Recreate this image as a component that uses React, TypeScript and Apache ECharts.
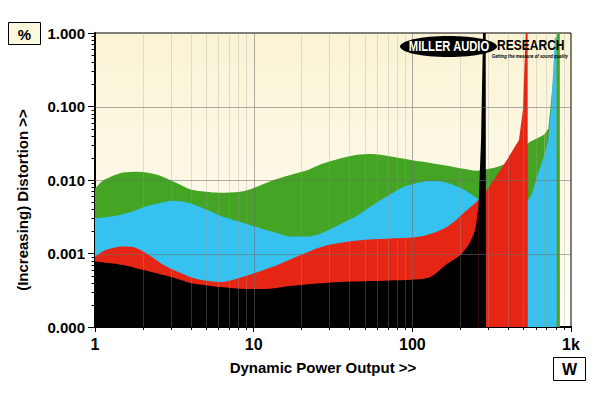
import React, { useEffect, useRef } from "react";
import * as echarts from "echarts";

// Distortion (%) vs power (W), each trace filled down to the axis floor
const greenData: [number, number][] = [
  [1, 0.0076], [1.1, 0.0095], [1.25, 0.011], [1.5, 0.0126], [1.85, 0.013], [2.5, 0.0117],
  [3.3, 0.009], [4, 0.0074], [5, 0.0069], [6.1, 0.0067], [8.2, 0.0069], [10, 0.0078],
  [13, 0.0098], [17, 0.0117], [22, 0.0137], [27, 0.0166], [35, 0.0196], [45, 0.022],
  [55, 0.0226], [72, 0.021], [100, 0.0185], [130, 0.017], [170, 0.0155], [210, 0.0142],
  [255, 0.0134], [295, 0.014], [340, 0.015], [394, 0.017], [450, 0.022], [527, 0.031],
  [600, 0.036], [680, 0.042], [720, 0.05], [780, 0.3], [815, 1], [850, 1], [851, 0.0001],
];
const blueData: [number, number][] = [
  [1, 0.003], [1.3, 0.0032], [1.7, 0.0037], [2.1, 0.0044], [2.5, 0.0048], [3.1, 0.0052],
  [4, 0.0048], [5.1, 0.0039], [6.1, 0.0033], [8.2, 0.0027], [11, 0.0022], [14, 0.0019],
  [17, 0.0017], [22, 0.0017], [27, 0.0019], [35, 0.0025], [45, 0.0033], [62, 0.0052],
  [72, 0.0063], [90, 0.0082], [117, 0.0095], [140, 0.0097], [165, 0.0092], [210, 0.0075],
  [255, 0.0057], [300, 0.0048], [400, 0.0045], [535, 0.0053], [610, 0.011], [680, 0.022],
  [720, 0.035], [755, 0.12], [790, 0.85], [810, 0.9], [812, 0.0001],
];
const redData: [number, number][] = [
  [1, 0.0009], [1.15, 0.0011], [1.35, 0.00122], [1.5, 0.00125], [1.8, 0.0012], [2.2, 0.00095],
  [2.8, 0.00067], [3.8, 0.0005], [4.6, 0.00044], [6.1, 0.00041], [9, 0.0005], [13.2, 0.00066],
  [17, 0.00083], [27, 0.00124], [45, 0.0015], [72, 0.0016], [112, 0.0017], [165, 0.0023],
  [221, 0.0039], [260, 0.0053], [295, 0.0073], [394, 0.0187], [470, 0.035], [498, 0.09],
  [518, 1], [533, 1], [534, 0.0001],
];
const blackData: [number, number][] = [
  [1, 0.00078], [1.5, 0.0007], [2, 0.0006], [2.5, 0.00053], [3.1, 0.00047], [4.1, 0.00039],
  [5, 0.00037], [6.1, 0.00035], [9, 0.00033], [12, 0.00033], [17, 0.00036], [25, 0.00039],
  [35, 0.00041], [50, 0.00042], [72, 0.00043], [100, 0.00044], [130, 0.00048], [165, 0.00072],
  [200, 0.00095], [230, 0.0014], [250, 0.0022], [262, 0.005], [271, 0.035], [279, 1],
  [290, 1], [291, 0.0001],
];
// the clipping spike at the end of each trace is drawn straight, the rest smooth
const spikeFromPower = [680, 680, 470, 262];

const seriesNames = ["green", "blue", "red", "black"];
const seriesColors = ["#44A423", "#36C2F0", "#E62614", "#000000"];

const xMin = 1;
const xMax = 1000;
const yMin = 0.0001;
const yMax = 1;
const xMajorGrid = [10, 100];
const yMajorGrid = [0.001, 0.01, 0.1];
const xMinorTicks = [2, 3, 4, 5, 6, 7, 8, 9, 20, 30, 40, 50, 60, 70, 80, 90, 200, 300, 400, 500, 600, 700, 800, 900];
const yMinorTicks = [
  0.0002, 0.0003, 0.0004, 0.0005, 0.0006, 0.0007, 0.0008, 0.0009,
  0.002, 0.003, 0.004, 0.005, 0.006, 0.007, 0.008, 0.009,
  0.02, 0.03, 0.04, 0.05, 0.06, 0.07, 0.08, 0.09,
  0.2, 0.3, 0.4, 0.5, 0.6, 0.7, 0.8, 0.9,
];

const FONT = "'Liberation Sans', Arial, sans-serif";

export default function App() {
  const ref = useRef<HTMLDivElement>(null);
  useEffect(() => {
    const chart = echarts.init(ref.current!, null, { renderer: "svg" });
    const datasets = [greenData, blueData, redData, blackData];
    const series: any[] = [];
    datasets.forEach((d, i) => {
      const k = d.findIndex((p) => p[0] >= spikeFromPower[i]);
      const common = {
        type: "line",
        name: seriesNames[i],
        showSymbol: false,
        symbol: "none",
        lineStyle: { width: 0 },
        areaStyle: { color: seriesColors[i], opacity: 1, origin: "start" },
        z: 2 + i,
        silent: true,
      };
      series.push({ ...common, data: d.slice(0, k + 1), smooth: 0.3 });
      series.push({ ...common, data: d.slice(k), smooth: false });
    });
    chart.setOption({
      animation: false,
      backgroundColor: "#ffffff",
      grid: {
        left: 95,
        top: 33,
        right: 29,
        bottom: 66,
        show: true,
        borderColor: "#000",
        borderWidth: 1,
        backgroundColor: new echarts.graphic.LinearGradient(0, 0, 0, 1, [
          { offset: 0, color: "#FAF3D4" },
          { offset: 1, color: "#FFFDF6" },
        ]),
      },
      xAxis: {
        type: "log",
        logBase: 10,
        min: xMin,
        max: xMax,
        axisLine: { show: true, lineStyle: { color: "#000", width: 2 } },
        axisTick: { show: true, length: 5, lineStyle: { color: "#000" } },
        splitLine: { show: false },
        axisLabel: {
          margin: 9,
          color: "#000",
          fontFamily: FONT,
          fontWeight: "bold",
          fontSize: 16,
          formatter: (v: number) => (v >= 1000 ? v / 1000 + "k" : String(v)),
        },
      },
      yAxis: {
        type: "log",
        logBase: 10,
        min: yMin,
        max: yMax,
        axisLine: { show: true, lineStyle: { color: "#000", width: 2 } },
        axisTick: { show: true, length: 7, lineStyle: { color: "#000" } },
        splitLine: { show: false },
        axisLabel: {
          margin: 10,
          color: "#000",
          fontFamily: FONT,
          fontWeight: "bold",
          fontSize: 15,
          formatter: (v: number) => v.toFixed(3),
        },
      },
      series,
    });

    const px = (x: number, y: number) =>
      chart.convertToPixel({ gridIndex: 0 }, [x, y]) as number[];
    const [gl, gb] = px(xMin, yMin);
    const [gr, gt] = px(xMax, yMax);
    const els: any[] = [];
    const line = (x1: number, y1: number, x2: number, y2: number, stroke: string, w = 1) =>
      els.push({
        type: "line",
        silent: true,
        z: 50,
        shape: { x1, y1, x2, y2 },
        style: { stroke, lineWidth: w },
      });
    xMinorTicks.forEach((v) => {
      const x = Math.round(px(v, yMin)[0]) + 0.5;
      line(x, gt, x, gb, "rgba(160,160,160,0.3)");
      line(x, gb, x, gb + 3, "#000");
    });
    xMajorGrid.forEach((v) => {
      const x = Math.round(px(v, yMin)[0]) + 0.5;
      line(x, gt, x, gb, "rgba(110,110,110,0.55)");
    });
    yMinorTicks.forEach((v) => {
      const y = Math.round(px(xMin, v)[1]) + 0.5;
      line(gl - 3.5, y, gl, y, "#000");
    });
    yMajorGrid.forEach((v) => {
      const y = Math.round(px(xMin, v)[1]) + 0.5;
      line(gl, y, gr, y, "rgba(110,110,110,0.55)");
    });

    // titles, unit boxes, logo
    els.push(
      {
        type: "text",
        z: 60,
        x: 323,
        y: 367,
        style: {
          text: "Dynamic Power Output >>",
          font: `bold 15px ${FONT}`,
          fill: "#000",
          align: "center",
          verticalAlign: "middle",
        },
      },
      {
        type: "text",
        z: 60,
        x: 22,
        y: 200,
        rotation: Math.PI / 2,
        style: {
          text: "(Increasing) Distortion >>",
          font: `bold 15px ${FONT}`,
          fill: "#000",
          align: "center",
          verticalAlign: "middle",
        },
      },
      {
        type: "rect",
        z: 60,
        shape: { x: 8.5, y: 22.5, width: 32, height: 22 },
        style: { fill: "#FCF8DC", stroke: "#000", lineWidth: 1 },
      },
      {
        type: "text",
        z: 61,
        x: 24.5,
        y: 34,
        style: { text: "%", font: `bold 15px ${FONT}`, fill: "#000", align: "center", verticalAlign: "middle" },
      },
      {
        type: "rect",
        z: 60,
        shape: { x: 553.5, y: 357.5, width: 32, height: 23 },
        style: { fill: "#fff", stroke: "#000", lineWidth: 1 },
      },
      {
        type: "text",
        z: 61,
        x: 569.5,
        y: 369.5,
        style: { text: "W", font: `bold 16px ${FONT}`, fill: "#000", align: "center", verticalAlign: "middle" },
      },
      {
        type: "ellipse",
        z: 60,
        shape: { cx: 448.5, cy: 46.5, rx: 48.5, ry: 10.5 },
        style: { fill: "#000" },
      },
      {
        type: "text",
        z: 61,
        x: 449,
        y: 46.5,
        scaleX: 0.8,
        style: {
          text: "MILLER AUDIO",
          font: `bold 14px ${FONT}`,
          fill: "#fff",
          align: "center",
          verticalAlign: "middle",
        },
      },
      {
        type: "text",
        z: 61,
        x: 497,
        y: 45.5,
        scaleX: 0.86,
        style: {
          text: "RESEARCH",
          font: `bold 14px ${FONT}`,
          fill: "#000",
          align: "left",
          verticalAlign: "middle",
        },
      },
      {
        type: "text",
        z: 61,
        x: 568,
        y: 56,
        scaleX: 0.72,
        style: {
          text: "Getting the measure of sound quality",
          font: `italic bold 6px ${FONT}`,
          fill: "#000",
          align: "right",
          verticalAlign: "middle",
        },
      }
    );
    chart.setOption({ graphic: { elements: els } });
    return () => chart.dispose();
  }, []);
  return (
    <div
      ref={ref}
      style={{ position: "absolute", left: 0, top: 0, width: 600, height: 393 }}
    />
  );
}
